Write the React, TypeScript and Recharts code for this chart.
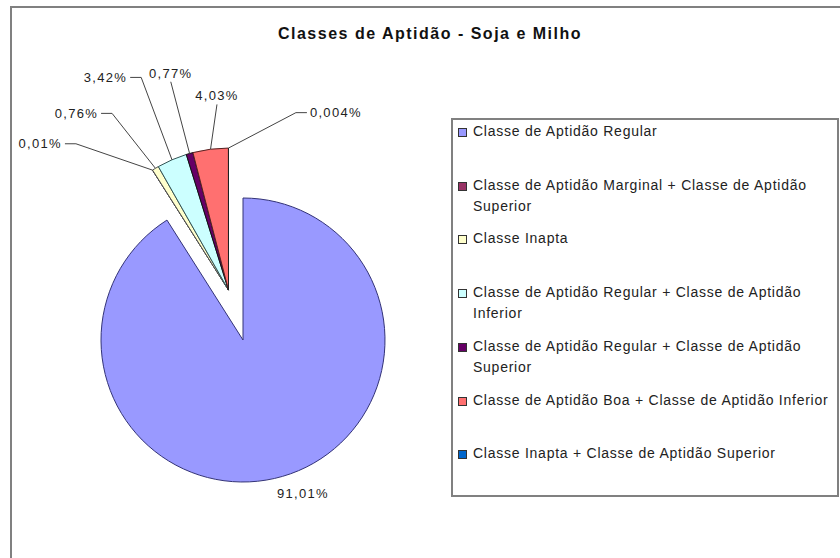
import { PieChart, Pie, Cell } from 'recharts';

const categories = [
  'Classe de Aptidão Regular',
  'Classe de Aptidão Marginal + Classe de Aptidão Superior',
  'Classe Inapta',
  'Classe de Aptidão Regular + Classe de Aptidão Inferior',
  'Classe de Aptidão Regular + Classe de Aptidão Superior',
  'Classe de Aptidão Boa + Classe de Aptidão Inferior',
  'Classe Inapta + Classe de Aptidão Superior',
];
const shares = [91.01, 0.01, 0.76, 3.42, 0.77, 4.03, 0.004];
const shareLabels = ['91,01%', '0,01%', '0,76%', '3,42%', '0,77%', '4,03%', '0,004%'];
const colors = ['#9999FF', '#993366', '#FFFFCC', '#CCFFFF', '#660066', '#FF7070', '#0066CC'];
const exploded = [false, true, true, true, true, true, true];

// layout
const CX = 243;
const CY = 340;
const R = 142;
const EXPLODE = 52;
// label anchor: angle clockwise from 12 o'clock, distance from pie centre, side of the leader
const labelPos = [
  { t: 158.7, r: 165, side: 'below' },
  { t: 317.3, r: 267, side: 'left' },
  { t: 327.4, r: 269, side: 'left' },
  { t: 336.2, r: 287, side: 'left' },
  { t: 344.6, r: 272, side: 'top' },
  { t: 353.8, r: 241, side: 'top' },
  { t: 16.4, r: 237, side: 'right' },
];
const strokes = ['#333377', '#222', '#555', '#335555', '#111', '#552222', '#222'];

const FONT = '"Liberation Sans", Arial, sans-serif';
const RAD = Math.PI / 180;

const rows = categories.map((name, i) => ({ name, value: shares[i] }));
const total = shares.reduce((a, b) => a + b, 0);

// the exploded group moves out along its own bisector
const groupStart = shares.findIndex((_, i) => exploded[i]);
const groupBefore = shares.slice(0, groupStart).reduce((a, b) => a + b, 0);
const groupSum = shares.filter((_, i) => exploded[i]).reduce((a, b) => a + b, 0);
const groupTheta = ((360 * (groupBefore + groupSum / 2)) / total) * RAD;

const renderLabel = (i: number) => (props: any) => {
  if (props.index !== i) return null;
  const { cx, cy, midAngle, outerRadius } = props;
  const ex = cx + outerRadius * Math.cos(-midAngle * RAD);
  const ey = cy + outerRadius * Math.sin(-midAngle * RAD);
  const lp = labelPos[i];
  const lx = CX + lp.r * Math.sin(lp.t * RAD);
  const ly = CY - lp.r * Math.cos(lp.t * RAD);
  const textStyle = { fontFamily: FONT, fontSize: 13, fill: '#222', letterSpacing: 1.3 };
  if (lp.side === 'below') {
    return (
      <text key={`l${i}`} x={lx} y={ly} textAnchor="middle" dominantBaseline="central" style={textStyle}>
        {shareLabels[i]}
      </text>
    );
  }
  let pts = '';
  let anchor: 'start' | 'middle' | 'end' = 'end';
  let base: 'central' | 'auto' = 'central';
  if (lp.side === 'left') {
    pts = `${lx + 3},${ly} ${lx + 14},${ly} ${ex},${ey}`;
    anchor = 'end';
  } else if (lp.side === 'right') {
    pts = `${lx - 3},${ly} ${lx - 14},${ly} ${ex},${ey}`;
    anchor = 'start';
  } else {
    pts = `${lx},${ly + 4} ${ex},${ey}`;
    anchor = 'middle';
    base = 'auto';
  }
  return (
    <g key={`l${i}`}>
      <polyline points={pts} fill="none" stroke="#444" strokeWidth={1} />
      <text x={lx} y={ly} textAnchor={anchor} dominantBaseline={base} style={textStyle}>
        {shareLabels[i]}
      </text>
    </g>
  );
};

export default function App() {
  return (
    <div style={{ position: 'absolute', left: 0, top: 0, width: 840, height: 558, background: '#fff', overflow: 'hidden' }}>
      <div
        style={{
          position: 'absolute',
          left: 10,
          top: 6,
          width: 840,
          height: 560,
          border: '2px solid #808080',
          boxSizing: 'border-box',
        }}
      />
      <div
        style={{
          position: 'absolute',
          left: 0,
          top: 25,
          width: 860,
          textAlign: 'center',
          fontFamily: FONT,
          fontWeight: 'bold',
          fontSize: 16,
          letterSpacing: 1.5,
          color: '#111',
        }}
      >
        Classes de Aptidão - Soja e Milho
      </div>
      <div style={{ position: 'absolute', left: 0, top: 0 }}>
        <PieChart width={840} height={558} margin={{ top: 0, right: 0, bottom: 0, left: 0 }}>
          {shares.map((_, i) => {
            const e = exploded[i] ? EXPLODE : 0;
            return (
              <Pie
                key={i}
                data={rows}
                dataKey="value"
                nameKey="name"
                cx={CX + e * Math.sin(groupTheta)}
                cy={CY - e * Math.cos(groupTheta)}
                outerRadius={R}
                startAngle={90}
                endAngle={-270}
                isAnimationActive={false}
                labelLine={false}
                label={renderLabel(i)}
                legendType="none"
              >
                {rows.map((_, j) => (
                  <Cell
                    key={j}
                    fill={j === i ? colors[j] : 'none'}
                    stroke={j === i ? strokes[j] : 'none'}
                    strokeWidth={1}
                  />
                ))}
              </Pie>
            );
          })}
        </PieChart>
      </div>
      <div
        style={{
          position: 'absolute',
          left: 451,
          top: 118,
          width: 388,
          height: 379,
          border: '2px solid #808080',
          boxSizing: 'border-box',
          background: '#fff',
          fontFamily: FONT,
          fontSize: 14,
          letterSpacing: 0.75,
          color: '#222',
        }}
      >
        {categories.map((c, i) => (
          <div
            key={c}
            style={{
              position: 'absolute',
              left: 20,
              top: 1 + i * 53.7,
              width: 362,
              lineHeight: '21px',
            }}
          >
            <span
              style={{
                position: 'absolute',
                left: -15,
                top: 7,
                width: 7,
                height: 7,
                background: colors[i],
                border: '1px solid #333',
              }}
            />
            {c}
          </div>
        ))}
      </div>
    </div>
  );
}
